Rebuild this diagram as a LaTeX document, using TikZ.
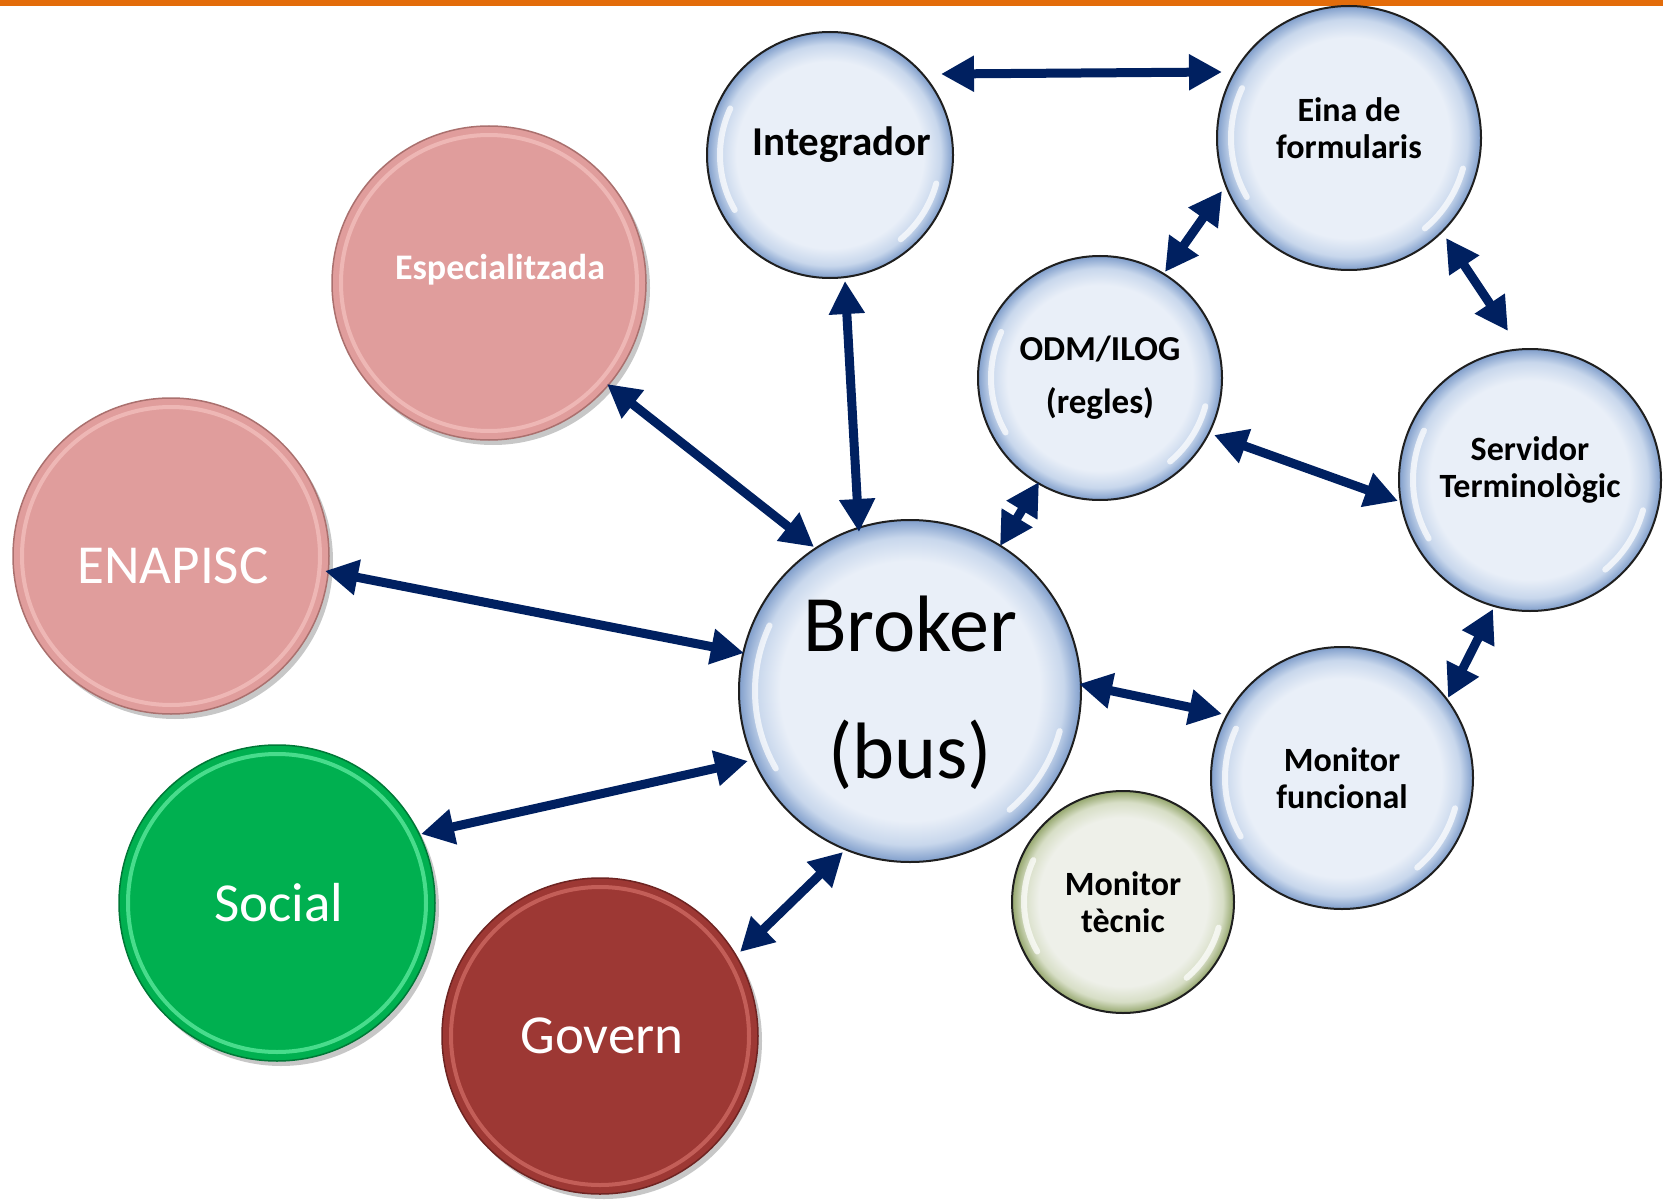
\documentclass[tikz,border=0pt]{standalone}
\usepackage{fontspec}
\setmainfont{Carlito}
\usetikzlibrary{arrows.meta,shadows}
\definecolor{bin}{RGB}{233,239,248}
\definecolor{bmid}{RGB}{200,215,236}
\definecolor{bout}{RGB}{128,158,203}
\definecolor{gin}{RGB}{238,240,233}
\definecolor{gmid}{RGB}{215,222,198}
\definecolor{gout}{RGB}{148,166,108}
\definecolor{arrowblue}{RGB}{0,32,96}
\definecolor{orangeline}{RGB}{227,108,10}
\definecolor{pinkfill}{RGB}{224,157,156}
\definecolor{pinkring}{RGB}{242,190,188}
\definecolor{pinkedge}{RGB}{170,112,110}
\definecolor{greenfill}{RGB}{0,176,80}
\definecolor{greenring}{RGB}{90,232,155}
\definecolor{greenedge}{RGB}{0,120,55}
\definecolor{redfill}{RGB}{157,56,52}
\definecolor{redring}{RGB}{205,104,97}
\definecolor{rededge}{RGB}{110,36,34}
\pgfdeclareradialshading{blueball}{\pgfpoint{0bp}{0bp}}{color(0bp)=(bin); color(19bp)=(bin); color(22.5bp)=(bmid); color(25bp)=(bout); color(50bp)=(bout)}
\pgfdeclareradialshading{oliveball}{\pgfpoint{0bp}{0bp}}{color(0bp)=(gin); color(19bp)=(gin); color(22.5bp)=(gmid); color(25bp)=(gout); color(50bp)=(gout)}
\tikzset{
  bub/.style={circle, inner sep=0pt, outer sep=0pt, draw=black!88, line width=2pt, shade},
  bluebub/.style={bub, shading=blueball},
  olivebub/.style={bub, shading=oliveball},
  disk/.style={circle, inner sep=0pt, outer sep=0pt, line width=1.5pt,
    drop shadow={shadow xshift=4pt, shadow yshift=-5pt, opacity=.22, fill=black}},
  pinkdisk/.style={disk, fill=pinkfill, draw=pinkedge},
  greendisk/.style={disk, fill=greenfill, draw=greenedge},
  reddisk/.style={disk, fill=redfill, draw=rededge},
  lbl/.style={inner sep=0pt, align=center},
  blk/.style={lbl, text=black, font=\bfseries\fontsize{34}{37}\selectfont},
  wht/.style={lbl, text=white, font=\fontsize{55}{60}\selectfont},
  hlite/.style={white, line width=6pt, opacity=.7, line cap=round},
  biarr/.style={{Triangle[length=33pt,width=34pt]}-{Triangle[length=33pt,width=34pt]}, line width=9pt, draw=arrowblue},
}
\begin{document}
\begin{tikzpicture}[x=1pt,y=-1pt]
\useasboundingbox (0,0) rectangle (1663,1201);
\fill[orangeline] (0,0) rectangle (1663,6);

% bubbles
\node[bluebub, minimum size=246pt] (integ) at (830,155) {};
\node[bluebub, minimum size=264pt] (eina) at (1349,138) {};
\node[bluebub, minimum size=244pt] (odm) at (1100,378) {};
\node[bluebub, minimum size=262pt] (serv) at (1530,480) {};
\node[bluebub, minimum size=342pt] (broker) at (910,691) {};
\node[bluebub, minimum size=262pt] (monf) at (1342,778) {};
\node[olivebub, minimum size=222pt] (mont) at (1123,902) {};
\node[pinkdisk, minimum size=314pt] (espec) at (489,283) {};
\node[pinkdisk, minimum size=316pt] (enap) at (171,556) {};
\node[greendisk, minimum size=316pt] (social) at (277,903) {};
\node[reddisk, minimum size=316pt] (govern) at (600,1036) {};

% glossy highlights on bubbles
\foreach \n/\r in {integ/110, eina/118, odm/109, serv/117, broker/155, monf/117, mont/99}{
  \draw[hlite] (\n.center) ++(150:\r) arc (150:205:\r);
  \draw[hlite] (\n.center) ++(15:\r) arc (15:50:\r);
}
% light rims on flat disks
\draw[pinkring, line width=4pt, opacity=.8] (espec.center) circle (148);
\draw[pinkring, line width=4pt, opacity=.8] (enap.center) circle (149);
\draw[greenring, line width=4pt, opacity=.8] (social.center) circle (149);
\draw[redring, line width=4pt, opacity=.8] (govern.center) circle (149);

% labels
\node[blk, font=\bfseries\fontsize{41}{44}\selectfont] (integ-t) at ([shift={(12,-10)}]integ.center) {Integrador};
\node[blk] (eina-t) at ([shift={(0,-10)}]eina.center) {Eina de\\formularis};
\node[blk, font=\bfseries\fontsize{35}{53}\selectfont] (odm-t) at (odm.center) {ODM/ILOG\\(regles)};
\node[blk] (serv-t) at ([shift={(0,-10)}]serv.center) {Servidor\\Terminològic};
\node[lbl, text=black, font=\fontsize{80}{127}\selectfont] (broker-t) at ([shift={(0,2)}]broker.center) {Broker\\(bus)};
\node[blk] (monf-t) at (monf.center) {Monitor\\funcional};
\node[blk] (mont-t) at (mont.center) {Monitor\\tècnic};
\node[lbl, text=white, font=\bfseries\fontsize{36}{40}\selectfont] (espec-t) at ([shift={(11,-13)}]espec.center) {Especialitzada};
\node[wht] (enap-t) at ([shift={(2,10)}]enap.center) {ENAPISC};
\node[wht] (social-t) at ([shift={(2,0)}]social.center) {Social};
\node[wht] (govern-t) at ([shift={(2,0)}]govern.center) {Govern};

% connectors
\draw[biarr] ([shift={(111,-81)}]integ.center) -- ([shift={(-127,-66)}]eina.center);
\draw[biarr] ([shift={(-127,53)}]eina.center) -- ([shift={(65,-106)}]odm.center);
\draw[biarr] ([shift={(97,100)}]eina.center) -- ([shift={(-22,-149)}]serv.center);
\draw[biarr] ([shift={(114,57)}]odm.center) -- ([shift={(-132,21)}]serv.center);
\draw[biarr] ([shift={(-61,104)}]odm.center) -- ([shift={(90,-145)}]broker.center);
\draw[biarr] ([shift={(15,126)}]integ.center) -- ([shift={(-51,-159)}]broker.center);
\draw[biarr] ([shift={(118,101)}]espec.center) -- ([shift={(-96,-144)}]broker.center);
\draw[biarr] ([shift={(154,15)}]enap.center) -- ([shift={(-166,-38)}]broker.center);
\draw[biarr] ([shift={(144,-69)}]social.center) -- ([shift={(-162,70)}]broker.center);
\draw[biarr] ([shift={(140,-84)}]govern.center) -- ([shift={(-67,161)}]broker.center);
\draw[biarr] ([shift={(169,-7)}]broker.center) -- ([shift={(-120,-64)}]monf.center);
\draw[biarr] ([shift={(106,-80)}]monf.center) -- ([shift={(-37,129)}]serv.center);
\end{tikzpicture}
\end{document}
